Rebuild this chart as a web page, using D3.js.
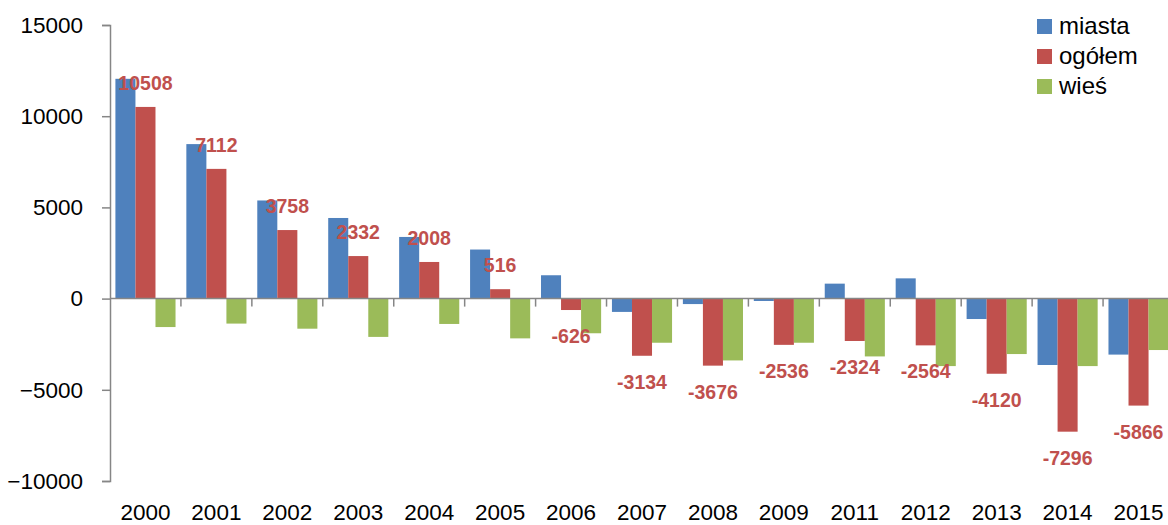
<!DOCTYPE html>
<html>
<head>
<meta charset="utf-8">
<script src="https://d3js.org/d3.v7.min.js"></script>
<style>
  body { margin: 0; background: #fff; }
  svg { display: block; font-family: "Liberation Sans", Arial, sans-serif; }
</style>
</head>
<body>
<div id="chart"></div>
<script>
// data
const years = ["2000","2001","2002","2003","2004","2005","2006","2007","2008","2009","2011","2012","2013","2014","2015"];
const seriesNames = ["miasta", "ogółem", "wieś"];
const miasta = [12050, 8470, 5380, 4420, 3380, 2690, 1280, -730, -300, -130, 820, 1110, -1120, -3640, -3070];
const ogolem = [10508, 7112, 3758, 2332, 2008, 516, -626, -3134, -3676, -2536, -2324, -2564, -4120, -7296, -5866];
const wies   = [-1560, -1370, -1650, -2100, -1390, -2180, -1900, -2420, -3390, -2420, -3170, -3700, -3040, -3700, -2820];
const yTicks = [-10000, -5000, 0, 5000, 10000, 15000];
const colors = ["#4f81bd", "#c0504d", "#9bbb59"];

const W = 1168, H = 525;
const margin = {top: 25, left: 110};
const plotW = 1064, plotH = 456;

const svg = d3.select("#chart").append("svg")
  .attr("width", W).attr("height", H);

const g = svg.append("g")
  .attr("transform", `translate(${margin.left},${margin.top})`);

const x0 = d3.scaleBand().domain(years).range([0, plotW]).padding(0);
const x1 = d3.scaleBand().domain(seriesNames).range([0, x0.bandwidth()])
  .paddingInner(0).paddingOuter(0.27);
const y = d3.scaleLinear().domain([-10000, 15000]).range([plotH, 0]);

const rows = years.map((yr, i) => ({
  year: yr,
  vals: [miasta[i], ogolem[i], wies[i]]
}));

// bars
const groups = g.selectAll(".grp").data(rows).join("g")
  .attr("class", "grp")
  .attr("transform", d => `translate(${x0(d.year)},0)`);

groups.selectAll("rect")
  .data(d => d.vals.map((v, k) => ({name: seriesNames[k], v: v, k: k})))
  .join("rect")
    .attr("x", d => x1(d.name))
    .attr("width", x1.bandwidth())
    .attr("y", d => y(Math.max(0, d.v)))
    .attr("height", d => Math.abs(y(d.v) - y(0)))
    .style("fill", d => colors[d.k]);

// y axis
const yAxis = g.append("g")
  .call(d3.axisLeft(y).tickValues(yTicks).tickSize(8).tickPadding(19).tickFormat(d3.format("d")));
yAxis.select(".domain").attr("stroke", "#868686").attr("stroke-width", 1.5);
yAxis.selectAll(".tick line").attr("stroke", "#868686").attr("stroke-width", 1.5);
yAxis.selectAll("text").style("font-size", "22.5px").attr("fill", "#000");

// x axis along zero with boundary ticks
g.append("line")
  .attr("x1", 0).attr("x2", plotW)
  .attr("y1", y(0)).attr("y2", y(0))
  .attr("stroke", "#868686").attr("stroke-width", 1.5);

g.selectAll(".xtick").data(years).join("line")
  .attr("class", "xtick")
  .attr("x1", d => x0(d) + x0.step()).attr("x2", d => x0(d) + x0.step())
  .attr("y1", y(0)).attr("y2", y(0) + 8)
  .attr("stroke", "#868686").attr("stroke-width", 1.5);

g.selectAll(".xlab").data(years).join("text")
  .attr("class", "xlab")
  .attr("x", d => x0(d) + x0.bandwidth() / 2)
  .attr("y", 495)
  .attr("text-anchor", "middle")
  .style("font-size", "22.5px")
  .attr("fill", "#000")
  .text(d => d);

// data labels for ogółem
g.selectAll(".lab").data(rows).join("text")
  .attr("class", "lab")
  .attr("x", d => x0(d.year) + x1("ogółem") + x1.bandwidth() / 2)
  .attr("y", d => d.vals[1] >= 0 ? y(d.vals[1]) - 17 : y(d.vals[1]) + 33)
  .attr("text-anchor", "middle")
  .style("font-size", "19.5px")
  .style("font-weight", "bold")
  .attr("fill", "#c0504d")
  .text(d => d.vals[1]);

// legend
const legend = svg.append("g").attr("transform", "translate(1037,19)");
const li = legend.selectAll("g").data(seriesNames).join("g")
  .attr("transform", (d, i) => `translate(0,${i * 30})`);
li.append("rect").attr("width", 15).attr("height", 15)
  .style("fill", (d, i) => colors[i]);
li.append("text").attr("x", 22).attr("y", 15)
  .style("font-size", "24px").attr("fill", "#000")
  .text(d => d);
</script>
</body>
</html>
